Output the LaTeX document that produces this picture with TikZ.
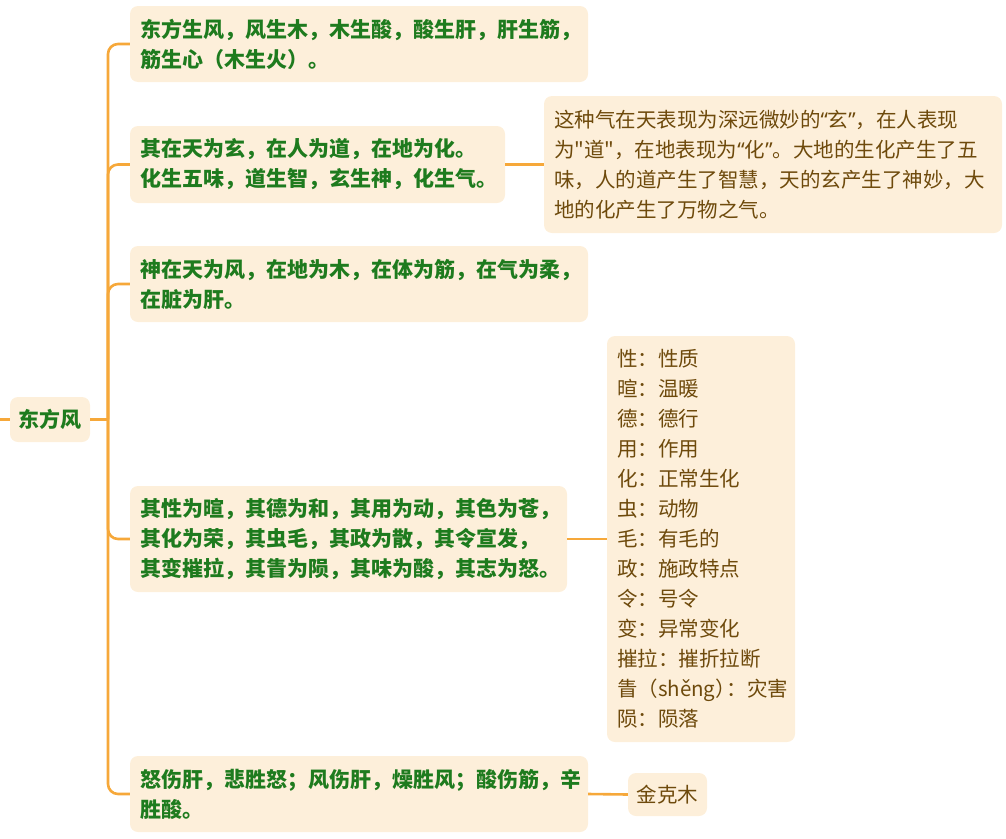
\documentclass[tikz,border=0pt]{standalone}
\usepackage{fontspec}
\newfontfamily\cjk{Noto Sans CJK SC}
\newfontfamily\lat{Noto Sans}
\definecolor{boxfill}{HTML}{FDEFDA}
\definecolor{linec}{HTML}{F6A83A}
\definecolor{greent}{HTML}{1E7B1E}
\definecolor{brownt}{HTML}{6E4A0C}
\newcommand{\myLq}{{\lat “}}
\newcommand{\myRq}{{\lat ”}}
\tikzset{
  box/.style={fill=boxfill, rounded corners=8pt, inner xsep=10pt, inner ysep=0pt, align=left},
  mainbox/.style={box, text=greent, font=\cjk\bfseries\fontsize{21pt}{30pt}\selectfont},
  notebox/.style={box, text=brownt, font=\cjk\fontsize{20.5pt}{30pt}\selectfont},
  link/.style={draw=linec, line width=2.6pt},
}
\begin{document}
\begin{tikzpicture}[x=1pt,y=-1pt]
\useasboundingbox (0,0) rectangle (1006,838);

\node[mainbox, minimum width=80pt, minimum height=45pt, inner xsep=0pt, align=center] (root) at (50,419.5) {东方风};

\node[mainbox, text width=438pt, minimum height=76pt] (n1) at (359,44) {东方生风，风生木，木生酸，酸生肝，肝生筋，\\筋生心（木生火）。};
\node[mainbox, text width=355pt, minimum height=77pt] (n2) at (317.5,164.5) {其在天为玄，在人为道，在地为化。\\化生五味，道生智，玄生神，化生气。};
\node[notebox, text width=438pt, minimum height=137pt] (n2note) at (773,164.5) {这种气在天表现为深远微妙的\myLq 玄\myRq，在人表现\\为"道"，在地表现为\myLq 化\myRq。大地的生化产生了五\\味，人的道产生了智慧，天的玄产生了神妙，大\\地的化产生了万物之气。};
\node[mainbox, text width=438pt, minimum height=76pt] (n3) at (359,284) {神在天为风，在地为木，在体为筋，在气为柔，\\在脏为肝。};
\node[mainbox, text width=417pt, minimum height=106pt] (n4) at (348.5,539) {其性为暄，其德为和，其用为动，其色为苍，\\其化为荣，其虫毛，其政为散，其令宣发，\\其变摧拉，其眚为陨，其味为酸，其志为怒。};
\node[notebox, text width=168pt, minimum height=406pt] (n4note) at (701,539) {性：性质\\暄：温暖\\德：德行\\用：作用\\化：正常生化\\虫：动物\\毛：有毛的\\政：施政特点\\令：号令\\变：异常变化\\摧拉：摧折拉断\\眚（shěng）\kern-9pt：灾害\\陨：陨落};
\node[mainbox, text width=438pt, minimum height=76pt] (n5) at (359,794) {怒伤肝，悲胜怒；风伤肝，燥胜风；酸伤筋，辛\\胜酸。};
\node[notebox, minimum width=79pt, minimum height=43pt, inner xsep=0pt, align=center] (n5note) at (667.5,794.5) {金克木};

\coordinate (pin) at (0,419.5);
\coordinate (j) at (108,419.5);
\draw[link] (pin) -- (root.west);
\draw[link] (root.east) -- (j);
\foreach \c in {n1,n2,n3,n4,n5} {
  \draw[link, rounded corners=10pt] (j) |- (\c.west);
}
\draw[link] (n2.east) -- (n2note.west);
\draw[link] (n4.east) -- (n4note.west);
\draw[link] (n5.east) -- (n5note.west);
\end{tikzpicture}
\end{document}
